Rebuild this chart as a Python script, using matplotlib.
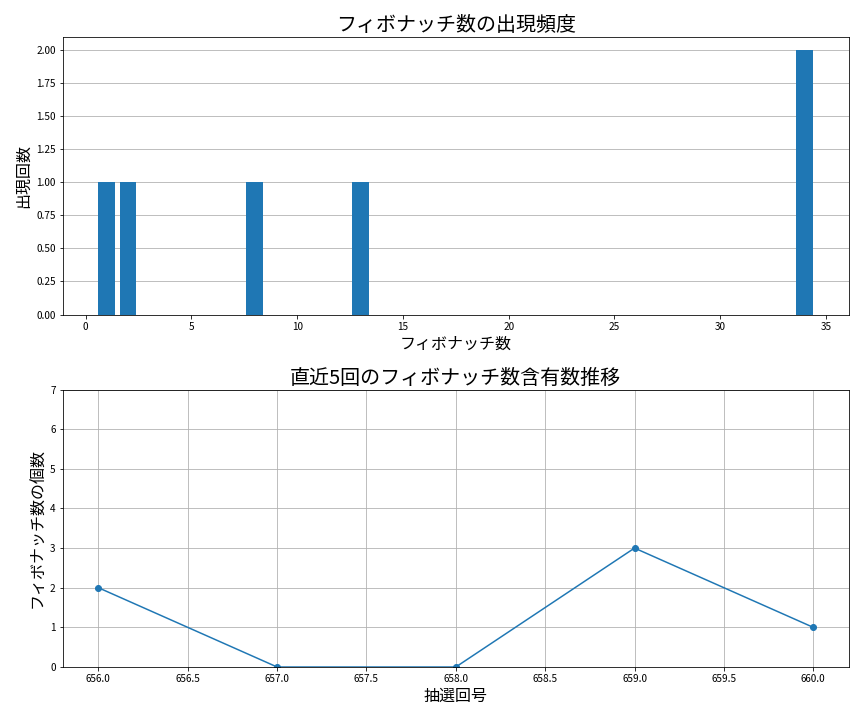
import matplotlib.pyplot as plt

plt.rcParams['font.family'] = ['Noto Sans CJK JP', 'DejaVu Sans']

# fibonacci numbers and how often they appeared
fib_numbers = [1, 2, 8, 13, 34]
fib_counts = [1, 1, 1, 1, 2]

# last 5 draws
draw_no = [656, 657, 658, 659, 660]
fib_in_draw = [2, 0, 0, 3, 1]

fig, (ax1, ax2) = plt.subplots(2, 1, figsize=(12, 10), dpi=72)

ax1.bar(fib_numbers, fib_counts, color='#1f77b4')
ax1.set_title('フィボナッチ数の出現頻度', fontsize=20)
ax1.set_xlabel('フィボナッチ数', fontsize=16)
ax1.set_ylabel('出現回数', fontsize=16)
ax1.grid(axis='y')
ax1.set_axisbelow(True)

ax2.plot(draw_no, fib_in_draw, marker='o', color='#1f77b4')
ax2.set_title('直近5回のフィボナッチ数含有数推移', fontsize=20)
ax2.set_xlabel('抽選回号', fontsize=16)
ax2.set_ylabel('フィボナッチ数の個数', fontsize=16)
ax2.set_ylim(0, 7)
ax2.grid(True)

plt.tight_layout(pad=1.5)
plt.savefig('out.png', dpi=72)
